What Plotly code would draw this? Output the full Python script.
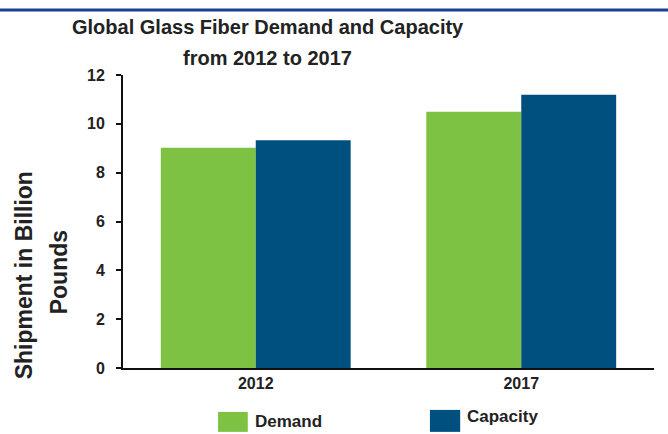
import plotly.graph_objects as go

years = ["2012", "2017"]
series_names = ["Demand", "Capacity"]
demand = [9.02, 10.5]
capacity = [9.33, 11.19]
y_ticks = [0, 2, 4, 6, 8, 10, 12]
colors = ["#7dc242", "#00507f"]

FONT = "Liberation Sans"
TXT = "#222222"

fig = go.Figure()
fig.add_trace(go.Bar(x=years, y=demand, name=series_names[0], marker=dict(color=colors[0], line=dict(width=0)), showlegend=False))
fig.add_trace(go.Bar(x=years, y=capacity, name=series_names[1], marker=dict(color=colors[1], line=dict(width=0)), showlegend=False))

fig.update_layout(
    width=668, height=434,
    margin=dict(l=123, r=14, t=75, b=66),
    paper_bgcolor="white", plot_bgcolor="white",
    bargap=0.285, bargroupgap=0,
    barmode="group",
    font=dict(family=FONT, color=TXT),
    xaxis=dict(
        type="category", range=[-0.5, 1.5],
        showline=True, linecolor="#111111", linewidth=2,
        ticks="", showgrid=False, zeroline=False,
        tickfont=dict(family=FONT, size=16, color=TXT, weight="bold"),
    ),
    yaxis=dict(
        range=[0, 12], tickvals=y_ticks,
        showline=True, linecolor="#111111", linewidth=2,
        ticks="outside", ticklen=5, tickwidth=2, tickcolor="#111111",
        ticklabelstandoff=8,
        showgrid=False, zeroline=False,
        tickfont=dict(family=FONT, size=16, color=TXT, weight="bold"),
    ),
)

def add_text(text, x, y, size, angle=0, xanchor="center"):
    fig.add_annotation(text=text, x=x, y=y, xref="paper", yref="paper", showarrow=False,
                       textangle=angle, xanchor=xanchor, yanchor="middle",
                       font=dict(family=FONT, size=size, color=TXT, weight="bold"))

add_text("Global Glass Fiber Demand and Capacity", 0.273, 1.164, 20)
add_text("from 2012 to 2017", 0.273, 1.058, 20)
add_text("Shipment in Billion", -0.186, 0.317, 23, angle=-90)
add_text("Pounds", -0.119, 0.326, 23, angle=-90)

legend_items = [
    (series_names[0], colors[0], (0.179, 0.235, -0.218, -0.150), (0.245, -0.183)),
    (series_names[1], colors[1], (0.578, 0.635, -0.218, -0.143), (0.644, -0.167)),
]
for name, col, (x0, x1, y0, y1), (tx, ty) in legend_items:
    fig.add_shape(type="rect", xref="paper", yref="paper", x0=x0, x1=x1, y0=y0, y1=y1,
                  fillcolor=col, line=dict(width=0))
    add_text(name, tx, ty, 17, xanchor="left")

# top blue rule of the source page
fig.add_shape(type="rect", xref="paper", yref="paper", x0=-0.25, x1=1.05, y0=1.217, y1=1.227,
              fillcolor="#1c3f94", line=dict(width=0))

fig.write_html("out.html")
